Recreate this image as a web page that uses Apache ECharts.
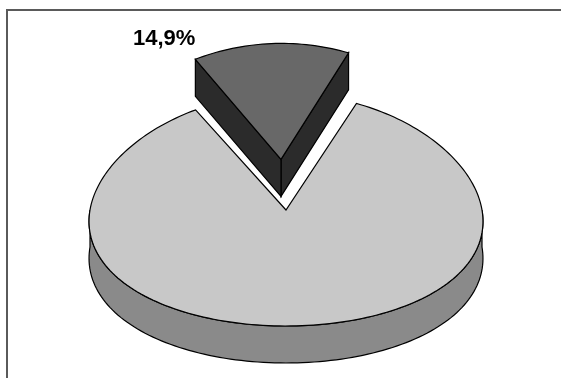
<!DOCTYPE html>
<html>
<head>
<meta charset="utf-8">
<script src="https://cdn.jsdelivr.net/npm/echarts@6/dist/echarts.min.js"></script>
<style>
  html, body { margin: 0; padding: 0; background: #ffffff; overflow: hidden; }
  #chart { position: absolute; left: 0; top: 0; width: 561px; height: 378px; }
</style>
</head>
<body>
<div id="chart"></div>
<script>
// Pie data: one exploded, labelled share and the remainder.
const sliceNames = ['Anteil', 'Rest'];
const sliceValues = [14.9, 85.1];
const sliceExplode = [0.437, 0];      // offset along the slice's mid angle, in radii
const sliceLabelled = [true, false];

// Look of the 3D disc.
const topColors = ['#686868', '#c8c8c8'];
const wallColors = ['#2b2b2b', '#8a8a8a'];
const disc = {
  cx: 286, cy: 210,      // projected centre of the top face
  rx: 196, ry: 116,      // ellipse radii of the top face
  depth: 37,             // thickness of the disc in pixels
  persp: 0.1,            // horizontal narrowing toward the back
  midDeg: 93.5           // angle where the first slice is centred
};

const total = sliceValues.reduce((s, v) => s + v, 0);
const startAngle = disc.midDeg * Math.PI / 180 - (sliceValues[0] / total) * Math.PI;

function proj(X, Z, h) {
  return [disc.cx + disc.rx * X * (1 - disc.persp * Z), disc.cy - disc.ry * Z + h];
}

function formatPct(v) {
  return v.toFixed(1).replace('.', ',') + '%';
}

function renderSlice(params, api) {
  const i = params.dataIndex;
  const value = api.value(0);
  let before = 0;
  for (let k = 0; k < i; k++) before += sliceValues[k];
  const a0 = startAngle + (before / total) * 2 * Math.PI;
  const a1 = a0 + (value / total) * 2 * Math.PI;
  const mid = (a0 + a1) / 2;
  const e = sliceExplode[i];
  const ox = e * Math.cos(mid), oz = e * Math.sin(mid);
  const pt = (t, r, h) => proj(r * Math.cos(t) + ox, r * Math.sin(t) + oz, h);
  const H = disc.depth;
  const stroke = { stroke: '#000', lineWidth: 1.2, lineJoin: 'miter' };
  const arc = (t0, t1, h) => {
    const n = Math.max(6, Math.ceil((t1 - t0) / (Math.PI / 120)));
    const out = [];
    for (let s = 0; s <= n; s++) out.push(pt(t0 + (t1 - t0) * s / n, 1, h));
    return out;
  };
  const children = [];

  // Plot-area frame: only its top and left edges fall inside the view
  if (i === 0) {
    children.push({
      type: 'polyline',
      shape: { points: [[7, 420], [7, 10], [620, 10]] },
      style: { stroke: '#5a5a5a', lineWidth: 2, fill: null }
    });
  }

  // Radial walls facing the viewer
  const edges = [[a0, a0 - Math.PI / 2], [a1, a1 + Math.PI / 2]];
  edges.forEach(([t, normal]) => {
    if (Math.sin(normal) < 0) {
      children.push({
        type: 'polygon',
        shape: { points: [pt(t, 0, 0), pt(t, 1, 0), pt(t, 1, H), pt(t, 0, H)] },
        style: Object.assign({ fill: wallColors[i] }, stroke)
      });
    }
  });

  // Curved outer wall: only the front half of the rim is visible
  for (let k = -1; k <= 2; k++) {
    const lo = Math.max(a0, Math.PI + 2 * Math.PI * k);
    const hi = Math.min(a1, 2 * Math.PI + 2 * Math.PI * k);
    if (hi > lo) {
      const pts = arc(lo, hi, 0).concat(arc(lo, hi, H).reverse());
      children.push({
        type: 'polygon',
        shape: { points: pts },
        style: Object.assign({ fill: wallColors[i] }, stroke)
      });
    }
  }

  // Top face
  children.push({
    type: 'polygon',
    shape: { points: [pt(0, 0, 0)].concat(arc(a0, a1, 0)) },
    style: Object.assign({ fill: topColors[i] }, stroke)
  });

  if (sliceLabelled[i]) {
    const c = pt(a1, 1, 0);
    children.push({
      type: 'text',
      x: c[0],
      y: c[1] - 9,
      style: {
        text: formatPct(value),
        fill: '#000',
        font: 'bold 22px "Liberation Sans", Arial, sans-serif',
        align: 'right',
        verticalAlign: 'bottom'
      }
    });
  }
  return { type: 'group', children };
}

const chart = echarts.init(document.getElementById('chart'), null, { renderer: 'canvas' });
chart.setOption({
  animation: false,
  backgroundColor: '#ffffff',
  series: [{
    type: 'custom',
    coordinateSystem: 'none',
    renderItem: renderSlice,
    data: sliceValues.map((v, k) => ({ name: sliceNames[k], value: [v] })),
    z: 2
  }]
});
</script>
</body>
</html>
